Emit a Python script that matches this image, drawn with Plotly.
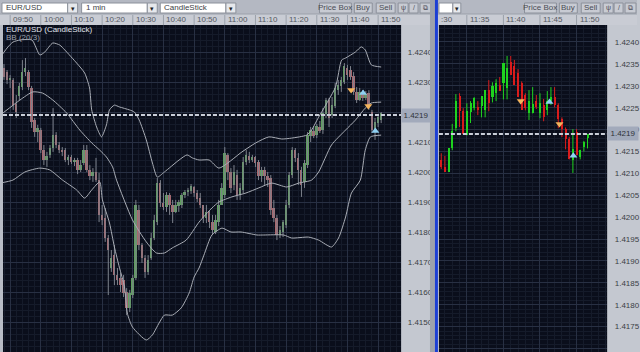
import plotly.graph_objects as go
import pandas as pd

W, H = 640, 352
def X(px): return px / W
def Y(py): return 1 - py / H

# ---------------- data : left chart (1 min candles, EUR/USD) ----------------
left_time = pd.date_range("2011-06-08 09:48", periods=124, freq="1min")
left_open = [1.42347,1.42333,1.42307,1.42307,1.42227,1.42253,1.42283,1.42333,1.42333,1.42280,1.42173,1.42133,
             1.42140,1.42073,1.42040,1.42057,1.42080,1.42123,1.42090,1.42073,1.42073,1.42040,1.42050,1.42033,
             1.42040,1.42007,1.42030,1.42073,1.42007,1.41987,1.42000,1.41973,1.41857,1.41847,1.41780,1.41680,
             1.41723,1.41657,1.41647,1.41640,1.41600,1.41547,1.41590,1.41647,1.41873,1.41757,1.41713,1.41667,
             1.41713,1.41780,1.41833,1.41963,1.41897,1.41883,1.41923,1.41890,1.41867,1.41887,1.41890,1.41923,
             1.41933,1.41937,1.41950,1.41930,1.41913,1.41890,1.41847,1.41867,1.41833,1.41800,1.41833,1.41890,
             1.41923,1.42057,1.42000,1.41957,1.41990,1.41923,1.41940,1.42033,1.42053,1.42040,1.42050,1.42033,
             1.41987,1.42007,1.41987,1.41980,1.41880,1.41847,1.41790,1.41800,1.41823,1.41890,1.41990,1.42073,
             1.42047,1.42007,1.41967,1.42023,1.42120,1.42137,1.42123,1.42150,1.42140,1.42193,1.42240,1.42190,
             1.42220,1.42273,1.42287,1.42300,1.42347,1.42340,1.42320,1.42267,1.42240,1.42267,1.42247,1.42263,
             1.42200,1.42140,1.42163,1.42173]
left_high = [1.42360,1.42340,1.42323,1.42313,1.42257,1.42297,1.42373,1.42380,1.42340,1.42287,1.42180,1.42157,
             1.42147,1.42090,1.42067,1.42090,1.42213,1.42133,1.42100,1.42083,1.42080,1.42057,1.42057,1.42047,
             1.42047,1.42040,1.42090,1.42090,1.42023,1.42013,1.42047,1.41997,1.41890,1.41880,1.41790,1.41740,
             1.41757,1.41680,1.41663,1.41657,1.41613,1.41607,1.41657,1.41907,1.41890,1.41763,1.41723,1.41723,
             1.41797,1.41857,1.41980,1.41973,1.41930,1.41933,1.41930,1.41907,1.41907,1.41907,1.41930,1.41940,
             1.41947,1.41960,1.41953,1.41940,1.41930,1.41890,1.41890,1.41873,1.41857,1.41857,1.41907,1.41963,
             1.42083,1.42063,1.42013,1.42023,1.42007,1.41963,1.42050,1.42073,1.42067,1.42057,1.42053,1.42040,
             1.42017,1.42017,1.42000,1.41990,1.41907,1.41857,1.41820,1.41840,1.41907,1.42000,1.42083,1.42080,
             1.42063,1.42017,1.42040,1.42133,1.42150,1.42153,1.42160,1.42170,1.42213,1.42247,1.42247,1.42250,
             1.42297,1.42307,1.42317,1.42363,1.42357,1.42353,1.42333,1.42283,1.42280,1.42273,1.42270,1.42273,
             1.42207,1.42180,1.42193,1.42200]
left_low = [1.42307,1.42293,1.42280,1.42207,1.42180,1.42240,1.42273,1.42320,1.42273,1.42147,1.42117,1.42100,
            1.42063,1.42023,1.42017,1.42047,1.42067,1.42080,1.42063,1.42053,1.42033,1.42023,1.42027,1.42020,
            1.41993,1.42000,1.42023,1.42000,1.41973,1.41967,1.41967,1.41833,1.41823,1.41767,1.41590,1.41667,
            1.41623,1.41623,1.41600,1.41583,1.41523,1.41533,1.41580,1.41640,1.41740,1.41697,1.41647,1.41657,
            1.41707,1.41773,1.41823,1.41883,1.41873,1.41867,1.41857,1.41830,1.41863,1.41867,1.41880,1.41913,
            1.41920,1.41927,1.41917,1.41900,1.41880,1.41830,1.41830,1.41813,1.41790,1.41793,1.41820,1.41890,
            1.41913,1.41973,1.41930,1.41940,1.41907,1.41907,1.41930,1.42023,1.42030,1.42033,1.42017,1.41973,
            1.41967,1.41957,1.41950,1.41857,1.41833,1.41773,1.41780,1.41783,1.41813,1.41880,1.41980,1.42033,
            1.41957,1.41917,1.41947,1.42013,1.42100,1.42113,1.42113,1.42130,1.42127,1.42180,1.42150,1.42180,
            1.42213,1.42257,1.42267,1.42293,1.42307,1.42307,1.42257,1.42230,1.42237,1.42237,1.42240,1.42207,
            1.42130,1.42107,1.42150,1.42163]
left_close = [1.42317,1.42307,1.42313,1.42223,1.42200,1.42287,1.42333,1.42347,1.42283,1.42167,1.42133,1.42147,
              1.42073,1.42040,1.42053,1.42080,1.42123,1.42090,1.42073,1.42067,1.42040,1.42050,1.42033,1.42040,
              1.42007,1.42023,1.42073,1.42007,1.41987,1.42000,1.41973,1.41857,1.41840,1.41780,1.41740,1.41713,
              1.41657,1.41640,1.41623,1.41597,1.41547,1.41597,1.41647,1.41890,1.41757,1.41713,1.41667,1.41707,
              1.41780,1.41840,1.41963,1.41897,1.41883,1.41923,1.41890,1.41867,1.41890,1.41900,1.41923,1.41933,
              1.41940,1.41953,1.41930,1.41910,1.41890,1.41847,1.41867,1.41833,1.41807,1.41840,1.41890,1.41947,
              1.42063,1.42000,1.41947,1.42000,1.41923,1.41947,1.42033,1.42057,1.42040,1.42050,1.42030,1.41987,
              1.42007,1.41987,1.41973,1.41873,1.41847,1.41790,1.41807,1.41833,1.41890,1.41990,1.42073,1.42047,
              1.42007,1.41957,1.42030,1.42123,1.42140,1.42120,1.42153,1.42137,1.42197,1.42240,1.42180,1.42223,
              1.42280,1.42290,1.42307,1.42353,1.42323,1.42317,1.42267,1.42240,1.42267,1.42247,1.42260,1.42217,
              1.42140,1.42167,1.42183,1.42197]

# Bollinger bands (20, 2) as drawn, read at sample minutes (minutes from 10:00)
bb_up_min = [-12.7,-10.7,-9.1,-6.8,-2.9,-0.3,1.3,3.9,6.2,7.8,11.7,14.3,15.9,16.6,18.2,19.8,21.4,22.4,24.0,25.6,
             28.9,30.5,32.1,34.4,36.4,38.0,40.3,45.1,47.7,49.4,51.6,54.9,58.1,65.6,70.1,74.4,78.6,81.8,86.7,88.3,
             90.6,96.1,98.1,99.4,102.6,104.5,105.8,107.8,111.0]
bb_up = [1.42390,1.42417,1.42433,1.42440,1.42440,1.42390,1.42400,1.42430,1.42423,1.42407,1.42363,1.42330,1.42280,
         1.42207,1.42150,1.42117,1.42157,1.42207,1.42223,1.42217,1.42207,1.42200,1.42173,1.42107,1.42030,1.41983,
         1.42000,1.42040,1.42057,1.42047,1.42040,1.42040,1.42013,1.42067,1.42097,1.42117,1.42110,1.42113,1.42123,
         1.42140,1.42183,1.42283,1.42373,1.42380,1.42400,1.42417,1.42407,1.42357,1.42350]
bb_mid_min = [-12.3,-6.8,-2.6,0.6,3.9,8.4,12.7,16.6,19.2,21.4,23.4,24.7,29.9,34.4,37.7,40.3,42.9,47.4,51.6,55.8,
              58.1,62.3,66.9,71.1,75.3,80.2,84.1,88.3,90.6,94.8,99.4,102.6,105.8,107.8,111.0]
bb_mid = [1.42197,1.42240,1.42267,1.42263,1.42240,1.42197,1.42140,1.42097,1.42073,1.42050,1.42017,1.41973,1.41840,
          1.41767,1.41730,1.41730,1.41747,1.41773,1.41833,1.41880,1.41900,1.41917,1.41930,1.41947,1.41963,1.41950,
          1.41963,1.41973,1.42000,1.42090,1.42140,1.42173,1.42213,1.42230,1.42233]
bb_low_min = [-13.3,-9.1,-5.2,-0.3,2.9,7.1,11.7,14.3,16.6,19.2,20.1,22.4,24.0,25.6,27.3,28.2,29.9,34.4,36.4,38.6,
              40.3,42.9,45.8,48.4,50.0,51.6,53.2,55.8,59.1,62.0,65.3,70.5,72.7,79.2,81.8,87.3,90.6,94.8,97.1,99.4,
              101.3,104.2,105.8,107.5,111.0]
bb_low = [1.41963,1.41973,1.42000,1.42013,1.42007,1.41973,1.41940,1.41913,1.41940,1.41967,1.41907,1.41830,1.41750,
          1.41683,1.41617,1.41530,1.41483,1.41440,1.41457,1.41497,1.41523,1.41523,1.41547,1.41597,1.41650,1.41680,
          1.41723,1.41790,1.41813,1.41800,1.41800,1.41790,1.41790,1.41790,1.41780,1.41783,1.41773,1.41750,1.41780,
          1.41850,1.41930,1.41973,1.42073,1.42117,1.42123]

# trade signals (left)
left_sell_min = [101.2, 106.8]
left_sell_px = [1.42273, 1.42220]
left_buy_min = [105.1, 109.1]
left_buy_px = [1.42263, 1.42137]

# ---------------- data : right chart (30 s candles) ----------------
right_time = pd.date_range("2011-06-08 11:31:30", periods=41, freq="30s")
right_open = [1.42131,1.42115,1.42103,1.42158,1.42203,1.42276,1.42242,1.42187,1.42240,1.42249,1.42251,1.42254,
              1.42244,1.42290,1.42274,1.42283,1.42301,1.42306,1.42295,1.42354,1.42345,1.42329,1.42306,1.42279,
              1.42237,1.42237,1.42265,1.42237,1.42256,1.42244,1.42265,1.42274,1.42256,1.42224,1.42201,1.42178,
              1.42130,1.42194,1.42137,1.42160,1.42180]
right_high = [1.42146,1.42140,1.42146,1.42213,1.42281,1.42283,1.42249,1.42260,1.42265,1.42274,1.42265,1.42274,
              1.42281,1.42313,1.42308,1.42315,1.42320,1.42313,1.42368,1.42368,1.42359,1.42338,1.42310,1.42283,
              1.42290,1.42297,1.42279,1.42283,1.42270,1.42288,1.42297,1.42297,1.42260,1.42228,1.42205,1.42183,
              1.42201,1.42201,1.42154,1.42174,1.42183]
right_low = [1.42110,1.42107,1.42103,1.42153,1.42196,1.42206,1.42194,1.42187,1.42215,1.42244,1.42233,1.42228,
             1.42228,1.42242,1.42262,1.42265,1.42292,1.42269,1.42269,1.42336,1.42322,1.42301,1.42274,1.42244,
             1.42222,1.42237,1.42247,1.42226,1.42219,1.42233,1.42256,1.42251,1.42203,1.42183,1.42155,1.42132,
             1.42101,1.42142,1.42132,1.42150,1.42157]
right_close = [1.42115,1.42103,1.42158,1.42197,1.42265,1.42242,1.42190,1.42242,1.42260,1.42272,1.42244,1.42276,
               1.42290,1.42260,1.42299,1.42306,1.42287,1.42353,1.42340,1.42324,1.42301,1.42274,1.42244,1.42249,
               1.42265,1.42258,1.42251,1.42260,1.42228,1.42265,1.42274,1.42256,1.42224,1.42201,1.42178,1.42132,
               1.42155,1.42142,1.42153,1.42171,1.42190]
right_sell_t = ["2011-06-08 11:42:22", "2011-06-08 11:47:40"]
right_sell_px = [1.42265, 1.42213]
right_buy_t = ["2011-06-08 11:46:18", "2011-06-08 11:49:34"]
right_buy_px = [1.42263, 1.42140]

last_price = 1.4219
left_price_ticks = [1.4140, 1.4150, 1.4160, 1.4170, 1.4180, 1.4190, 1.4200, 1.4210, 1.4230, 1.4240]
left_ticks = ["09:50","10:00","10:10","10:20","10:30","10:40","10:50","11:00","11:10","11:20","11:30","11:40","11:50"]
right_ticks = ["11:35","11:40","11:45","11:50"]
DAY = "2011-06-08 "

# ---------------- styling ----------------
BG = "#0a0e1b"
GRID = "#283043"
MINOR = "#151b2a"
PAPER = "#c4c8d0"
FONT = "Liberation Sans, Arial, sans-serif"

fig = go.Figure()

def candles(t, o, h, l, c, xa, ya, up, dn, wick, width_ms):
    base = [min(a, b) for a, b in zip(o, c)]
    hgt = [max(abs(b - a), 0.000012) for a, b in zip(o, c)]
    cols = [up if b >= a else dn for a, b in zip(o, c)]
    if wick is None:
        xu, yu, xd, yd = [], [], [], []
        for ti, hi, lo, a, b in zip(t, h, l, o, c):
            if b >= a:
                xu += [ti, ti, None]; yu += [lo, hi, None]
            else:
                xd += [ti, ti, None]; yd += [lo, hi, None]
        fig.add_trace(go.Scatter(x=xu, y=yu, mode="lines", line=dict(color=up, width=1),
                                 xaxis=xa, yaxis=ya, hoverinfo="skip"))
        fig.add_trace(go.Scatter(x=xd, y=yd, mode="lines", line=dict(color=dn, width=1),
                                 xaxis=xa, yaxis=ya, hoverinfo="skip"))
    else:
        wx, wy = [], []
        for ti, hi, lo in zip(t, h, l):
            wx += [ti, ti, None]; wy += [lo, hi, None]
        fig.add_trace(go.Scatter(x=wx, y=wy, mode="lines", line=dict(color=wick, width=1),
                                 xaxis=xa, yaxis=ya, hoverinfo="skip"))
    fig.add_trace(go.Bar(x=t, y=hgt, base=base, marker=dict(color=cols, line=dict(width=0)),
                         width=width_ms, xaxis=xa, yaxis=ya, hoverinfo="skip"))

# left chart
left_t = list(left_time)
candles(left_t, left_open, left_high, left_low, left_close, "x", "y",
        "#5e9e5e", "#a8676e", "#7d828c", 38000)
base_time = pd.Timestamp(DAY + "10:00")
for mins, vals in ((bb_up_min, bb_up), (bb_mid_min, bb_mid), (bb_low_min, bb_low)):
    fig.add_trace(go.Scatter(x=[base_time + pd.Timedelta(minutes=m) for m in mins], y=vals,
                             mode="lines", line=dict(color="#a9adb5", width=1, shape="spline", smoothing=0.6),
                             xaxis="x", yaxis="y", hoverinfo="skip"))
fig.add_trace(go.Scatter(x=[base_time + pd.Timedelta(minutes=m) for m in left_sell_min], y=left_sell_px,
                         mode="markers", marker=dict(symbol="triangle-down", size=7, color="#f2b35c"),
                         xaxis="x", yaxis="y"))
fig.add_trace(go.Scatter(x=[base_time + pd.Timedelta(minutes=m) for m in left_buy_min], y=left_buy_px,
                         mode="markers", marker=dict(symbol="triangle-up", size=7, color="#8fd0f2"),
                         xaxis="x", yaxis="y"))

# right chart
right_t = list(right_time)
candles(right_t, right_open, right_high, right_low, right_close, "x2", "y2",
        "#1fd31f", "#d91c1c", None, 17000)
fig.add_trace(go.Scatter(x=right_sell_t, y=right_sell_px, mode="markers",
                         marker=dict(symbol="triangle-down", size=7, color="#f2b35c"), xaxis="x2", yaxis="y2"))
fig.add_trace(go.Scatter(x=right_buy_t, y=right_buy_px, mode="markers",
                         marker=dict(symbol="triangle-up", size=7, color="#8fd0f2"), xaxis="x2", yaxis="y2"))

ydom = [0, Y(25)]
axis_common = dict(showline=False, zeroline=False, fixedrange=True)
fig.update_layout(
    width=W, height=H, margin=dict(l=0, r=0, t=0, b=0),
    paper_bgcolor=PAPER, plot_bgcolor=BG, showlegend=False, barmode="overlay", bargap=0,
    font=dict(family=FONT, size=8, color="#3b3e45"),
    xaxis=dict(domain=[X(3), X(403)], type="date", anchor="y",
               range=[DAY + "09:47:40", DAY + "11:57:30"], showticklabels=False, ticks="",
               tick0=DAY + "09:50", dtick=600000, showgrid=True, gridcolor=GRID, gridwidth=1,
               minor=dict(dtick=120000, showgrid=True, gridcolor=MINOR, gridwidth=1), **axis_common),
    yaxis=dict(domain=ydom, anchor="x", side="right", range=[1.4140, 1.4249],
               tickmode="array", tickvals=left_price_ticks, tickformat=".4f", ticks="outside", ticklen=4,
               tickcolor="rgba(0,0,0,0)", tickfont=dict(size=8, color="#3b3e45"),
               showgrid=False,
               minor=dict(dtick=0.0002, tick0=1.414, showgrid=True, gridcolor=MINOR, gridwidth=1), **axis_common),
    yaxis3=dict(domain=ydom, anchor="x", overlaying="y", side="left", range=[1.4140, 1.4249],
                dtick=0.001, tick0=1.414, showticklabels=False, ticks="", showgrid=True,
                gridcolor=GRID, gridwidth=1, **axis_common),
    xaxis2=dict(domain=[X(441), X(610)], type="date", anchor="y2",
                range=[DAY + "11:31:11", DAY + "11:54:11"], showticklabels=False, ticks="",
                tick0=DAY + "11:30", dtick=300000, showgrid=True, gridcolor=GRID, gridwidth=1,
                minor=dict(dtick=60000, showgrid=True, gridcolor=MINOR, gridwidth=1), **axis_common),
    yaxis2=dict(domain=ydom, anchor="x2", side="right", range=[1.416922, 1.424388],
                tick0=1.4165, dtick=0.0005, tickformat=".4f", ticks="outside", ticklen=5,
                tickcolor="rgba(0,0,0,0)", tickfont=dict(size=8, color="#3b3e45"),
                showgrid=True, gridcolor=GRID, gridwidth=1,
                minor=dict(dtick=0.0001, showgrid=True, gridcolor=MINOR, gridwidth=1), **axis_common),
)
# invisible helper trace so the major-grid overlay axis is drawn
fig.add_trace(go.Scatter(x=[left_t[0]], y=[last_price], mode="markers", marker=dict(opacity=0),
                         xaxis="x", yaxis="y3", hoverinfo="skip"))
fig.data = (fig.data[-1],) + fig.data[:-1]

shapes = []
ann = []
def rect(x0, y0, x1, y1, fill, line=None, layer="above"):
    shapes.append(dict(type="rect", xref="paper", yref="paper", x0=X(x0), x1=X(x1), y0=Y(y1), y1=Y(y0),
                       fillcolor=fill, line=dict(width=1 if line else 0, color=line or fill), layer=layer))
def text(x, y, s, size=8, color="#3b3e45", xanchor="left", bg=None):
    ann.append(dict(xref="paper", yref="paper", x=X(x), y=Y(y), text=s, showarrow=False,
                    xanchor=xanchor, yanchor="middle", font=dict(size=size, color=color, family=FONT),
                    bgcolor=bg))

# toolbar
rect(0, 0, 640, 14, "#b4b8c2")
rect(0, 14, 640, 25, "#c9ccd4")
shapes.append(dict(type="line", xref="paper", yref="paper", x0=0, x1=1, y0=Y(14), y1=Y(14),
                   line=dict(color="#9ca1ab", width=1)))
for x0, x1, label in ((2, 68, "EUR/USD"), (82, 148, "1 min"), (161, 227, "CandleStick")):
    rect(x0, 3, x1, 13, "#ffffff", "#8c919b")
    rect(x1, 3, x1 + 10, 13, "#e6e8ec", "#8c919b")
    text(x0 + 2, 8, label)
    text(x1 + 5, 8.5, "▾", size=7, color="#222", xanchor="center")
rect(441, 3, 455, 13, "#ffffff", "#8c919b")
rect(455, 3, 463, 13, "#e6e8ec", "#8c919b")
text(459, 8.5, "▾", size=7, color="#222", xanchor="center")
for off in (0, 206):
    for x0, x1, label in ((321, 353, "Price Box"), (356, 374, "Buy"), (378, 397, "Sell")):
        rect(x0 + off, 3, x1 + off, 13, "#c8cbd3", "#8c919b")
        text((x0 + x1) / 2 + off, 8, label, xanchor="center", color="#4a4d55")
    for x0, x1, label in ((400, 410, "ψ"), (411, 420, "/"), (422, 433, "⧉")):
        rect(x0 + off, 3, x1 + off, 13, "#c8cbd3", "#8c919b")
        text((x0 + x1) / 2 + off, 8, label, xanchor="center", color="#4a4d55", size=7)

# side strips and divider
rect(0, 25, 3, 352, "#b8bcc5")
rect(432, 0, 437, 352, "#9da2ac")
rect(437, 0, 440, 352, "#1c3fd4")

# header labels & separators
for lab in left_ticks:
    shapes.append(dict(type="line", xref="x", yref="paper", x0=DAY + lab, x1=DAY + lab,
                       y0=Y(25), y1=Y(15), line=dict(color="#9aa0aa", width=1)))
    ann.append(dict(xref="x", yref="paper", x=DAY + lab, y=Y(20), text=lab, showarrow=False,
                    xanchor="left", yanchor="middle", xshift=1, font=dict(size=8, color="#55585f", family=FONT)))
for lab in right_ticks:
    shapes.append(dict(type="line", xref="x2", yref="paper", x0=DAY + lab, x1=DAY + lab,
                       y0=Y(25), y1=Y(15), line=dict(color="#9aa0aa", width=1)))
    ann.append(dict(xref="x2", yref="paper", x=DAY + lab, y=Y(20), text=lab, showarrow=False,
                    xanchor="left", yanchor="middle", xshift=1, font=dict(size=8, color="#55585f", family=FONT)))
text(441, 20, ":30", color="#55585f")

# last price dashed line + boxes
for yr, x0, x1 in (("y", X(3), X(403)), ("y2", X(441), X(610))):
    shapes.append(dict(type="line", xref="paper", yref=yr, x0=x0, x1=x1, y0=last_price, y1=last_price,
                       line=dict(color="#c9ced8", width=2, dash="4px,2px"), layer="above"))
ann.append(dict(xref="paper", yref="y", x=X(403), y=last_price, text="1.4219", showarrow=False,
                xanchor="left", yanchor="middle", bgcolor="#a2aabb", borderpad=2, width=24,
                font=dict(size=8, color="#2f3238", family=FONT)))
ann.append(dict(xref="paper", yref="y2", x=X(610), y=last_price, text="1.4219", showarrow=False,
                xanchor="left", yanchor="middle", bgcolor="#a2aabb", borderpad=2, width=26,
                font=dict(size=8, color="#2f3238", family=FONT)))

# chart titles
text(4, 29, "EUR/USD (CandleStick)", size=8, color="#e3e6ee")
text(4, 37, "BB (20/3)", size=8, color="#9ea3ad")

fig.update_layout(shapes=shapes, annotations=ann)
fig.write_html("out.html", include_plotlyjs=True)
